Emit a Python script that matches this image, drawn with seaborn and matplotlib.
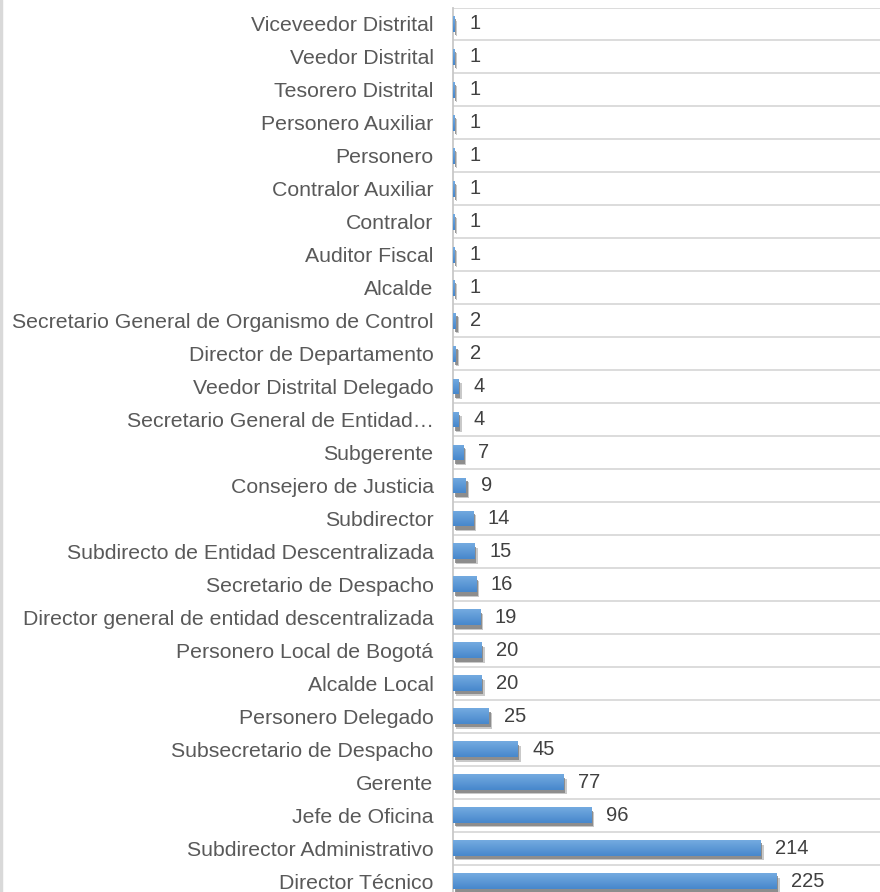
import numpy as np
import pandas as pd
import matplotlib
matplotlib.use("Agg")
import matplotlib.pyplot as plt
import matplotlib.patheffects as pe
from matplotlib.lines import Line2D
import seaborn as sns

cargos = ["Viceveedor Distrital", "Veedor Distrital", "Tesorero Distrital",
          "Personero Auxiliar", "Personero", "Contralor Auxiliar", "Contralor",
          "Auditor Fiscal", "Alcalde", "Secretario General de Organismo de Control",
          "Director de Departamento", "Veedor Distrital Delegado",
          "Secretario General de Entidad\u2026", "Subgerente", "Consejero de Justicia",
          "Subdirector", "Subdirecto de Entidad Descentralizada",
          "Secretario de Despacho", "Director general de entidad descentralizada",
          "Personero Local de Bogot\u00e1", "Alcalde Local", "Personero Delegado",
          "Subsecretario de Despacho", "Gerente", "Jefe de Oficina",
          "Subdirector Administrativo", "Director T\u00e9cnico"]
cantidad = [1, 1, 1, 1, 1, 1, 1, 1, 1, 2, 2, 4, 4, 7, 9, 14, 15, 16, 19, 20, 20,
            25, 45, 77, 96, 214, 225]

df = pd.DataFrame({"cargo": cargos, "n": cantidad})

sns.set_style("white")
plt.rcParams["font.family"] = ["Liberation Sans", "DejaVu Sans"]

fig = plt.figure(figsize=(8.8, 8.92), dpi=100)
ax = fig.add_axes([453 / 880, (892 - 897.5) / 892, 1 - 453 / 880, 890 / 892])

sns.barplot(data=df, x="n", y="cargo", orient="h", color="#5b9bd5",
            width=0.48, saturation=1, ax=ax, zorder=3, linewidth=0)

# sombra y degradado de las barras
grad = np.linspace(0, 1, 64).reshape(-1, 1)
cmap = matplotlib.colors.LinearSegmentedColormap.from_list(
    "azul", ["#74abe0", "#4787cc"])
for p in ax.patches:
    p.set_path_effects([
        pe.SimplePatchShadow(offset=(2.2, -3.2), shadow_rgbFace="#a6a6a6", alpha=0.6),
        pe.SimplePatchShadow(offset=(1.2, -2.4), shadow_rgbFace="#7f7f7f", alpha=0.8),
        pe.Normal()])
    x0, y0 = p.get_x(), p.get_y()
    w, h = p.get_width(), p.get_height()
    im = ax.imshow(grad, cmap=cmap, aspect="auto", extent=(x0, x0 + w, y0 + h, y0),
                   zorder=4, interpolation="bicubic")
    im.set_clip_path(p)

for i, v in enumerate(cantidad):
    ax.annotate(str(v), xy=(v, i), xytext=(10.5, 0), textcoords="offset points",
                va="center", ha="left", fontsize=14.5, color="#404040")

ax.set_xlim(0, 297)
ax.set_ylim(len(cargos) - 0.5, -0.5)
ax.set_xlabel("")
ax.set_ylabel("")
ax.set_xticks([])
ax.grid(False)
for yb in np.arange(len(cargos) + 1) - 0.5:
    ax.axhline(yb, color="#d9d9d9", lw=1.3, zorder=1)
ax.tick_params(axis="y", length=0, pad=14, labelsize=15.3, labelcolor="#595959")
for s in ["top", "right", "bottom"]:
    ax.spines[s].set_visible(False)
ax.spines["left"].set_color("#c8c8c8")
ax.spines["left"].set_linewidth(1.3)

fig.add_artist(Line2D([0.0015, 0.0015], [0, 1], transform=fig.transFigure,
                      color="#d9d9d9", lw=2.5))

fig.savefig("out.png", dpi=100)
